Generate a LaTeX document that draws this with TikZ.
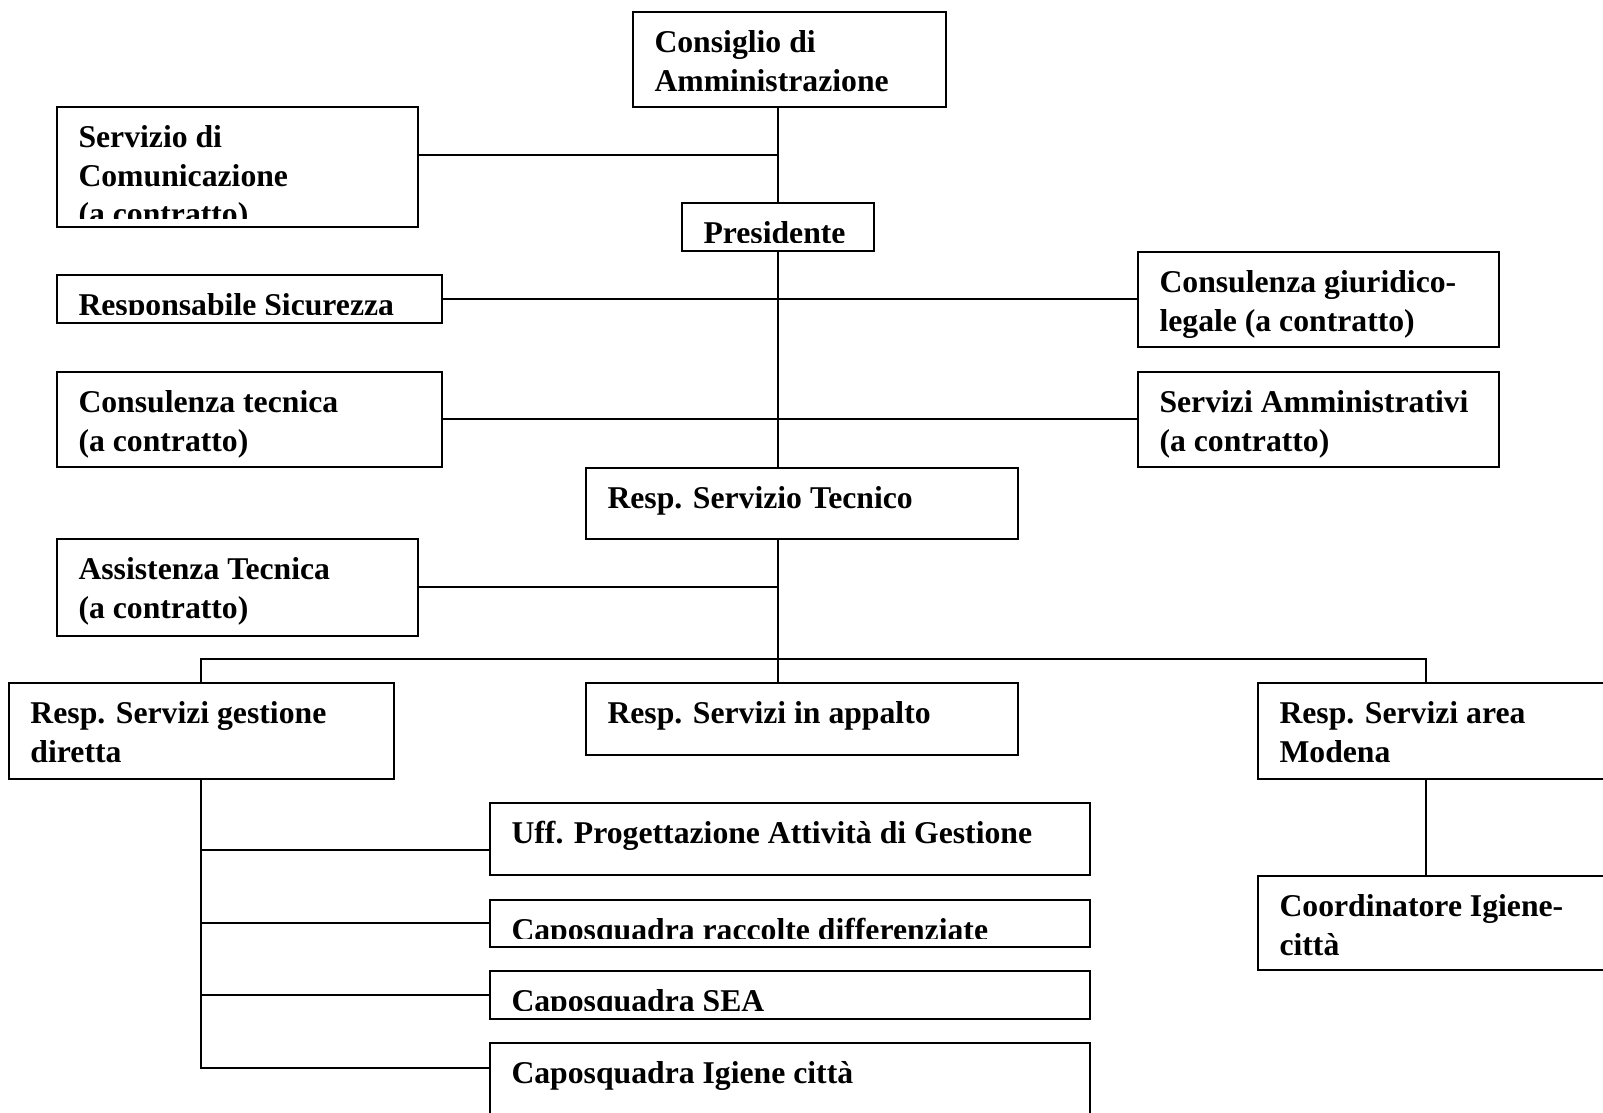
\documentclass[tikz,border=0pt]{standalone}
\usepackage{fontspec}
\setmainfont{Liberation Serif}
\tikzset{
  orgbox/.style={draw, line width=1.7pt, shape=rectangle, inner sep=0pt, outer sep=0pt, anchor=north west},
  orgtext/.style={anchor=base west, inner sep=0pt, outer sep=0pt, font=\fontsize{31.7}{38.5}\selectfont\bfseries},
  conn/.style={draw, line width=1.7pt}
}
\newcommand\tline[1]{\hbox{#1}}
\newcommand\orgbox[6]{%
  \node[orgbox, minimum width={#4pt-#2pt}, minimum height={#5pt-#3pt}] (#1) at (#2,#3) {};
  \begin{scope}
    \clip (#2,#3) rectangle (#4,#5-8.5);
    \node[orgtext] (#1-text) at (#2+21.5,#3+40.5) {\vtop{\baselineskip=38.5pt #6}};
  \end{scope}}
\begin{document}
\begin{tikzpicture}[x=1pt,y=-1pt]
\useasboundingbox (0,0) rectangle (1603,1112);
\clip (0,0) rectangle (1603,1112);
\fill[white] (0,0) rectangle (1603,1112);

% boxes
\orgbox{cons}{633}{12}{946}{107}{\tline{Consiglio di}\tline{Amministrazione}}
\orgbox{scom}{57}{107}{418}{227}{\tline{Servizio di}\tline{Comunicazione}\tline{(a contratto)}}
\orgbox{pres}{682}{203}{874}{251}{\tline{Presidente}}
\orgbox{rsic}{57}{275}{442}{323}{\tline{Responsabile Sicurezza}}
\orgbox{cgl}{1138}{252}{1499}{347}{\tline{Consulenza giuridico-}\tline{legale (a contratto)}}
\orgbox{ctec}{57}{372}{442}{467}{\tline{Consulenza tecnica}\tline{(a contratto)}}
\orgbox{samm}{1138}{372}{1499}{467}{\tline{Servizi Amministrativi}\tline{(a contratto)}}
\orgbox{rst}{586}{468}{1018}{539}{\tline{Resp. Servizio Tecnico}}
\orgbox{atec}{57}{539}{418}{636}{\tline{Assistenza Tecnica}\tline{(a contratto)}}
\orgbox{rgd}{9}{683}{394}{779}{\tline{Resp. Servizi gestione}\tline{diretta}}
\orgbox{rapp}{586}{683}{1018}{755}{\tline{Resp. Servizi in appalto}}
\orgbox{rmod}{1258}{683}{1640}{779}{\tline{Resp. Servizi area}\tline{Modena}}
\orgbox{uff}{490}{803}{1090}{875}{\tline{Uff. Progettazione Attività di Gestione}}
\orgbox{crac}{490}{900}{1090}{947}{\tline{Caposquadra raccolte differenziate}}
\orgbox{csea}{490}{971}{1090}{1019}{\tline{Caposquadra SEA}}
\orgbox{cig}{490}{1043}{1090}{1140}{\tline{Caposquadra Igiene città}}
\orgbox{coord}{1258}{876}{1640}{970}{\tline{Coordinatore Igiene-}\tline{città}}

% junction points
\coordinate (jA) at (778,155);
\coordinate (jB) at (778,299);
\coordinate (jC) at (778,419);
\coordinate (jD) at (778,587);
\coordinate (gx) at (201,659);
\coordinate (mx) at (1426,659);
\coordinate (g1) at (201,850);
\coordinate (g2) at (201,923);
\coordinate (g3) at (201,995);
\coordinate (g4) at (201,1068);

% connectors
\draw[conn] (cons.south -| pres.north) -- (pres.north);
\draw[conn] (scom.east |- jA) -- (jA);
\draw[conn] (pres.south) -- (pres.south |- rst.north);
\draw[conn] (rsic.east |- jB) -- (cgl.west |- jB);
\draw[conn] (ctec.east |- jC) -- (samm.west |- jC);
\draw[conn] (rst.south -| jD) -- (rapp.north -| jD);
\draw[conn] (atec.east |- jD) -- (jD);
\draw[conn] (rgd.north -| gx) -- (gx) -- (mx) -- (rmod.north -| mx);
\draw[conn] (rgd.south -| g4) -- (g4) -- (cig.west |- g4);
\draw[conn] (g1) -- (uff.west |- g1);
\draw[conn] (g2) -- (crac.west |- g2);
\draw[conn] (g3) -- (csea.west |- g3);
\draw[conn] (rmod.south -| mx) -- (coord.north -| mx);
\end{tikzpicture}
\end{document}
